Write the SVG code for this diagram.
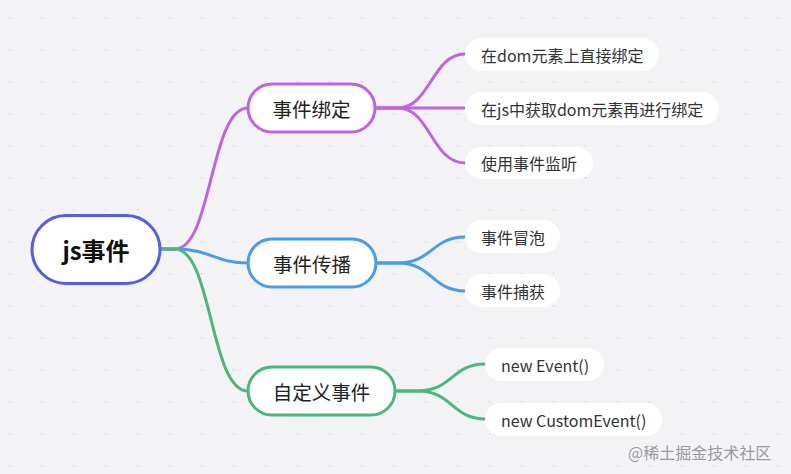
<svg xmlns="http://www.w3.org/2000/svg" width="791" height="474" viewBox="0 0 791 474">
<defs>
<pattern id="dots" x="9" y="17" width="32" height="32" patternUnits="userSpaceOnUse">
<circle cx="0.5" cy="0.5" r="0.9" fill="#c9c9cf"/>
</pattern>
</defs>
<style>
text{font-family:"Noto Sans CJK SC","Noto Sans",sans-serif;dominant-baseline:central;}
.root text{font-size:24px;font-weight:bold;fill:#111;text-anchor:middle;}
.mid text{font-size:19.5px;fill:#222;text-anchor:middle;}
.leaf rect{fill:#fff;}
.leaf text{font-size:16px;fill:#333;}
.mid rect{fill:#fff;stroke-width:3;}
#connectors path{fill:none;stroke-width:3;}
.p{stroke:#c064dd;}
.b{stroke:#4a9ceb;}
.g{stroke:#4cb77d;}
</style>
<rect width="791" height="474" fill="#f3f3f6"/>
<rect width="791" height="474" fill="url(#dots)"/>
<g id="connectors">
<path class="p" d="M160,249 L175,249 C212,249 210,108 248,108"/>
<path class="b" d="M160,249 L175,249 C210,249 215,263 248,263"/>
<path class="g" d="M160,249 L175,249 C212,249 210,391 248,391"/>
<path class="p" d="M375,108 L398,108 C430,108 432,54 465,54"/>
<path class="p" d="M375,108 L465,108"/>
<path class="p" d="M375,108 L398,108 C430,108 432,163 465,163"/>
<path class="b" d="M376,263 L398,263 C432,263 432,237 465,237"/>
<path class="b" d="M376,263 L398,263 C432,263 432,291 465,291"/>
<path class="g" d="M395,391 L418,391 C452,391 452,364 485,364"/>
<path class="g" d="M395,391 L418,391 C452,391 452,419 485,419"/>
</g>
<g id="root" class="root">
<rect x="32" y="215.5" width="128" height="68" rx="34" fill="#fff" stroke="#585ce4" stroke-width="3"/>
<text x="96" y="249.5">js事件</text>
</g>
<g id="n-bind" class="mid">
<rect x="248" y="84" width="127" height="48" rx="24" stroke="#c064dd"/>
<text x="311.5" y="108">事件绑定</text>
</g>
<g id="n-prop" class="mid">
<rect x="248" y="239" width="128" height="48" rx="24" stroke="#4a9ceb"/>
<text x="312" y="263">事件传播</text>
</g>
<g id="n-custom" class="mid">
<rect x="248" y="367" width="147" height="48" rx="24" stroke="#4cb77d"/>
<text x="321.5" y="391">自定义事件</text>
</g>
<g id="l1" class="leaf">
<rect x="465" y="38" width="194" height="33" rx="16.5"/>
<text x="481" y="54.5">在dom元素上直接绑定</text>
</g>
<g id="l2" class="leaf">
<rect x="465" y="92" width="254" height="33" rx="16.5"/>
<text x="481" y="108.5">在js中获取dom元素再进行绑定</text>
</g>
<g id="l3" class="leaf">
<rect x="465" y="147" width="128" height="32" rx="16"/>
<text x="481" y="163">使用事件监听</text>
</g>
<g id="l4" class="leaf">
<rect x="465" y="220" width="95" height="33" rx="16.5"/>
<text x="481" y="236.5">事件冒泡</text>
</g>
<g id="l5" class="leaf">
<rect x="465" y="274" width="95" height="33" rx="16.5"/>
<text x="481" y="290.5">事件捕获</text>
</g>
<g id="l6" class="leaf">
<rect x="485" y="348" width="119" height="33" rx="16.5"/>
<text x="501" y="364.5">new Event()</text>
</g>
<g id="l7" class="leaf">
<rect x="485" y="403" width="177" height="33" rx="16.5"/>
<text x="501" y="419.5">new CustomEvent()</text>
</g>
<text x="628" y="452" font-size="16" fill="#9a9a9e">@稀土掘金技术社区</text>
</svg>
